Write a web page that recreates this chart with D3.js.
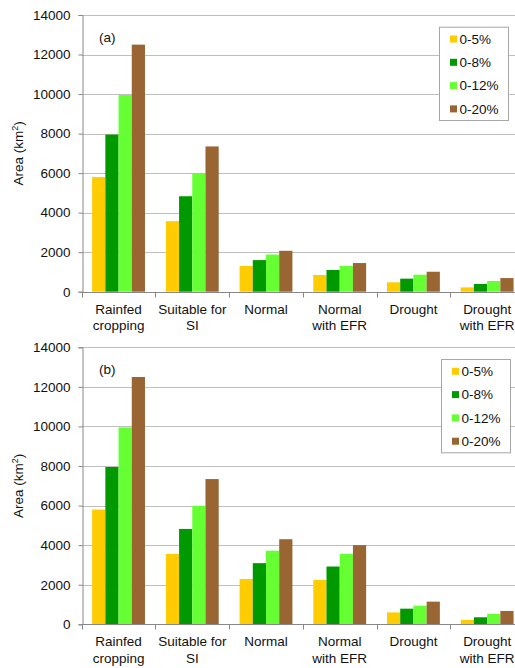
<!DOCTYPE html>
<html>
<head>
<meta charset="utf-8">
<script src="https://cdn.jsdelivr.net/npm/d3@7"></script>
<style>
  html, body { margin: 0; padding: 0; background: #fff; }
  svg { display: block; font-family: "Liberation Sans", Arial, sans-serif; }
</style>
</head>
<body>
<svg id="chart" width="515" height="668"></svg>
<script>
// Land area by slope class (km²)
const categories = ["Rainfed cropping", "Suitable for SI", "Normal", "Normal with EFR", "Drought", "Drought with EFR"];
const categoryLines = [["Rainfed", "cropping"], ["Suitable for", "SI"], ["Normal"], ["Normal", "with EFR"], ["Drought"], ["Drought", "with EFR"]];
const series = ["0-5%", "0-8%", "0-12%", "0-20%"];
const colors = ["#FFCC00", "#009900", "#66FF33", "#996633"];
const yTicks = [0, 2000, 4000, 6000, 8000, 10000, 12000, 14000];

// Panel (a)
const slope5a  = [5800, 3570, 1300, 845, 475, 220];
const slope8a  = [7950, 4830, 1600, 1100, 660, 390];
const slope12a = [9950, 5990, 1880, 1300, 860, 540];
const slope20a = [12500, 7350, 2070, 1450, 1010, 690];

// Panel (b)
const slope5b  = [5800, 3560, 2290, 2240, 600, 220];
const slope8b  = [7950, 4820, 3090, 2920, 790, 355];
const slope12b = [9950, 5990, 3720, 3560, 940, 520];
const slope20b = [12500, 7340, 4300, 4000, 1145, 675];

const panels = [
  { label: "(a)", values: [slope5a, slope8a, slope12a, slope20a], top: 15, bottom: 291.7, legendX: 439 },
  { label: "(b)", values: [slope5b, slope8b, slope12b, slope20b], top: 347.3, bottom: 624.3, legendX: 441 }
];

const svg = d3.select("#chart");
const left = 81.7, right = 524;
const fontSize = 13.5;

const x0 = d3.scaleBand().domain(categories).range([left, right]).paddingInner(0).paddingOuter(0);
const x1 = d3.scaleBand().domain(series).range([0, x0.bandwidth()]).paddingInner(0).paddingOuter(0.79);
const color = d3.scaleOrdinal().domain(series).range(colors);

panels.forEach(p => {
  const g = svg.append("g");
  const y = d3.scaleLinear().domain([0, 14000]).range([p.bottom, p.top]);

  // horizontal gridlines
  g.append("g").selectAll("line").data(yTicks.filter(t => t > 0)).join("line")
    .attr("x1", left).attr("x2", 515)
    .attr("y1", d => Math.round(y(d)) + 0.5).attr("y2", d => Math.round(y(d)) + 0.5)
    .attr("stroke", "#BFBFBF").attr("stroke-width", 1);

  // bars
  const rows = categories.map((c, i) => ({ cat: c, vals: series.map((s, k) => ({ s, v: p.values[k][i] })) }));
  g.append("g").selectAll("g").data(rows).join("g")
    .attr("transform", d => `translate(${x0(d.cat)},0)`)
    .selectAll("rect").data(d => d.vals).join("rect")
    .attr("x", d => x1(d.s)).attr("width", x1.bandwidth())
    .attr("y", d => y(d.v)).attr("height", d => y(0) - y(d.v))
    .attr("fill", d => color(d.s));

  // y axis
  const yAxis = d3.axisLeft(y).tickValues(yTicks).tickSize(4).tickPadding(8).tickFormat(d3.format("d"));
  const ya = g.append("g").attr("transform", `translate(${Math.round(left) + 0.5},0)`).call(yAxis);
  ya.select(".domain").attr("stroke", "#888");
  ya.selectAll(".tick line").attr("stroke", "#888");
  ya.selectAll(".tick text").attr("font-size", fontSize).attr("fill", "#111")
    .attr("font-family", "'Liberation Sans', Arial, sans-serif");

  // x axis with ticks at category boundaries
  const base = Math.round(y(0)) + 0.5;
  g.append("line").attr("x1", left).attr("x2", 515).attr("y1", base).attr("y2", base).attr("stroke", "#888");
  g.append("g").selectAll("line").data(d3.range(categories.length + 1)).join("line")
    .attr("x1", i => Math.round(left + i * x0.step()) + 0.5).attr("x2", i => Math.round(left + i * x0.step()) + 0.5)
    .attr("y1", base).attr("y2", base + 5).attr("stroke", "#888");

  // category labels
  const lab = g.append("g").selectAll("text").data(categories).join("text")
    .attr("text-anchor", "middle").attr("font-size", fontSize).attr("fill", "#111")
    .attr("x", d => x0(d) + x0.bandwidth() / 2).attr("y", y(0) + 21.8);
  lab.selectAll("tspan").data((d, i) => categoryLines[i]).join("tspan")
    .attr("x", function () { return d3.select(this.parentNode).attr("x"); })
    .attr("dy", (d, i) => i === 0 ? 0 : 16.7)
    .text(d => d);

  // y-axis title
  const t = g.append("text").attr("transform", `translate(23,${(p.top + p.bottom) / 2}) rotate(-90)`)
    .attr("text-anchor", "middle").attr("font-size", fontSize).attr("fill", "#111");
  t.append("tspan").text("Area (km");
  t.append("tspan").attr("font-size", 9).attr("dy", -5).text("2");
  t.append("tspan").attr("dy", 5).text(")");

  // panel label
  g.append("text").attr("x", 99).attr("y", p.top + 27).attr("font-size", fontSize).attr("fill", "#111").text(p.label);

  // legend
  const lg = g.append("g").attr("transform", `translate(${p.legendX},${p.top + 11.7})`);
  lg.append("rect").attr("x", 0.5).attr("y", 0.5).attr("width", 69).attr("height", 93.3)
    .attr("fill", "#fff").attr("stroke", "#A6A6A6");
  const items = lg.selectAll("g.item").data(series).join("g").attr("class", "item")
    .attr("transform", (d, i) => `translate(0,${12.3 + i * 23.3})`);
  items.append("rect").attr("x", 11).attr("y", -3.5).attr("width", 7).attr("height", 7).attr("fill", d => color(d));
  items.append("text").attr("x", 20.5).attr("dy", "0.35em").attr("font-size", fontSize).attr("fill", "#111").text(d => d);
});
</script>
</body>
</html>
